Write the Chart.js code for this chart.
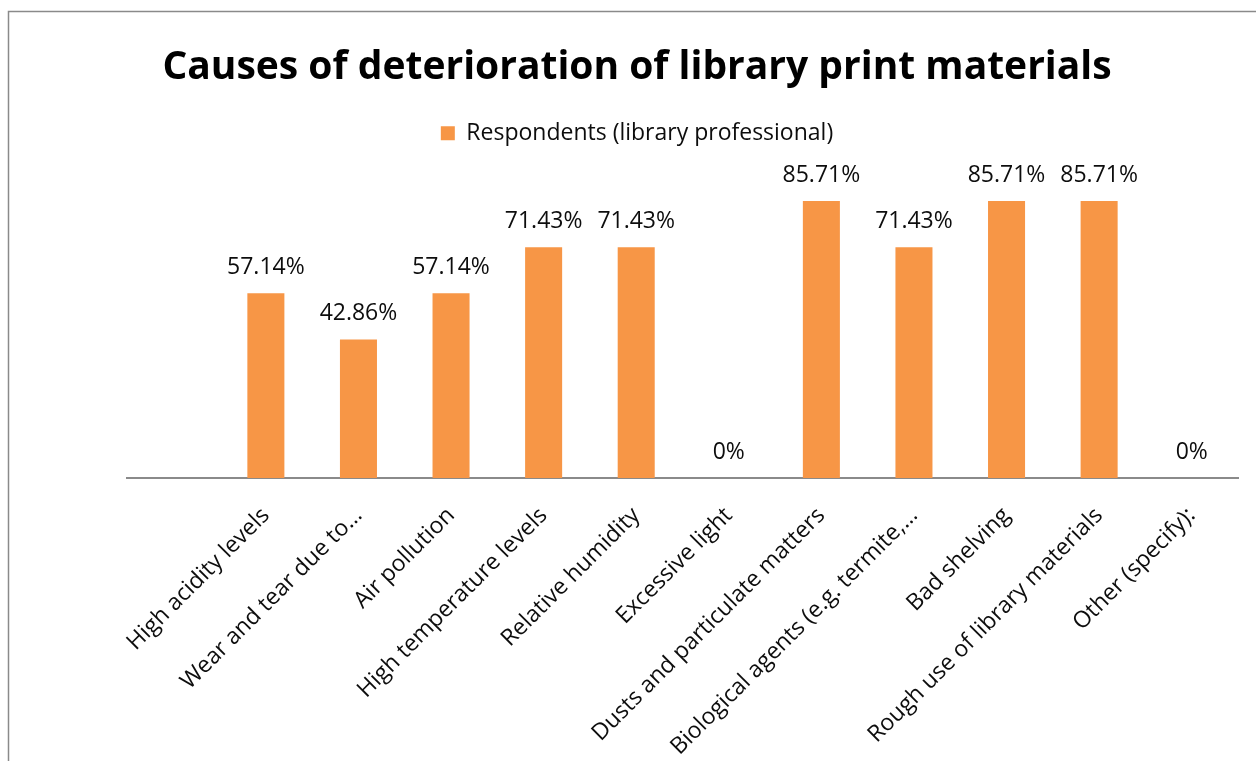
<!DOCTYPE html>
<html>
<head>
<meta charset="utf-8">
<script src="https://cdn.jsdelivr.net/npm/chart.js@4.4.0/dist/chart.umd.min.js"></script>
<style>
  html, body { margin: 0; padding: 0; background: #fff; }
  #wrap { position: relative; width: 1256px; height: 761px; }
</style>
</head>
<body>
<div id="wrap"><canvas id="chart" width="1256" height="761"></canvas></div>
<script>
const categories = [
  '',
  'High acidity levels',
  'Wear and tear due to…',
  'Air pollution',
  'High temperature levels',
  'Relative humidity',
  'Excessive light',
  'Dusts and particulate matters',
  'Biological agents (e.g. termite,…',
  'Bad shelving',
  'Rough use of library materials',
  'Other (specify):'
];
const respondents = [null, 57.14, 42.86, 57.14, 71.43, 71.43, 0, 85.71, 71.43, 85.71, 85.71, 0];
const seriesName = 'Respondents (library professional)';

const FONT = '"Open Sans", Calibri, sans-serif';
const TEXT_SIZE = 23;

const frame = {
  id: 'frame',
  beforeDraw(chart) {
    const c = chart.ctx;
    c.save();
    c.fillStyle = '#fff';
    c.fillRect(0, 0, chart.width, chart.height);
    c.strokeStyle = '#8a8a8a';
    c.lineWidth = 1.5;
    c.beginPath();
    c.moveTo(8.5, chart.height);
    c.lineTo(8.5, 11.5);
    c.lineTo(chart.width, 11.5);
    c.stroke();
    c.restore();
  }
};

const valueLabels = {
  id: 'valueLabels',
  afterDatasetsDraw(chart) {
    const c = chart.ctx;
    const meta = chart.getDatasetMeta(0);
    c.save();
    c.font = TEXT_SIZE + 'px ' + FONT;
    c.fillStyle = '#0d0d0d';
    c.textAlign = 'center';
    c.textBaseline = 'middle';
    meta.data.forEach((bar, i) => {
      const v = respondents[i];
      if (v === null) return;
      const txt = (v === 0 ? '0' : v.toFixed(2)) + '%';
      c.fillText(txt, bar.x, bar.y - 26);
    });
    c.restore();
  }
};

new Chart(document.getElementById('chart'), {
  type: 'bar',
  data: {
    labels: categories,
    datasets: [{
      label: seriesName,
      data: respondents,
      backgroundColor: '#F79646',
      barPercentage: 0.8,
      categoryPercentage: 0.5
    }]
  },
  options: {
    responsive: false,
    animation: false,
    layout: { padding: { left: 36, right: 18, top: 34, bottom: 0 } },
    plugins: {
      title: {
        display: true,
        text: 'Causes of deterioration of library print materials',
        font: { family: FONT, size: 39, weight: 'bold' },
        color: '#000',
        padding: { top: 10, bottom: 21 }
      },
      legend: {
        display: true,
        labels: {
          font: { family: FONT, size: TEXT_SIZE },
          color: '#0d0d0d',
          boxWidth: 14,
          boxHeight: 14,
          padding: 10
        }
      },
      tooltip: { enabled: false }
    },
    scales: {
      x: {
        grid: { display: false, drawTicks: false },
        border: { display: true, color: '#8a8a8a', width: 2 },
        ticks: {
          font: { family: FONT, size: TEXT_SIZE },
          color: '#0d0d0d',
          minRotation: 45,
          maxRotation: 45,
          autoSkip: false,
          padding: 24
        },
        afterFit(scale) { scale.height = 283; }
      },
      y: {
        display: true,
        min: 0,
        max: 100,
        grid: { display: false, drawTicks: false },
        border: { display: false },
        ticks: { display: false },
        afterFit(scale) { scale.width = 91; }
      }
    }
  },
  plugins: [frame, valueLabels]
});
</script>
</body>
</html>
